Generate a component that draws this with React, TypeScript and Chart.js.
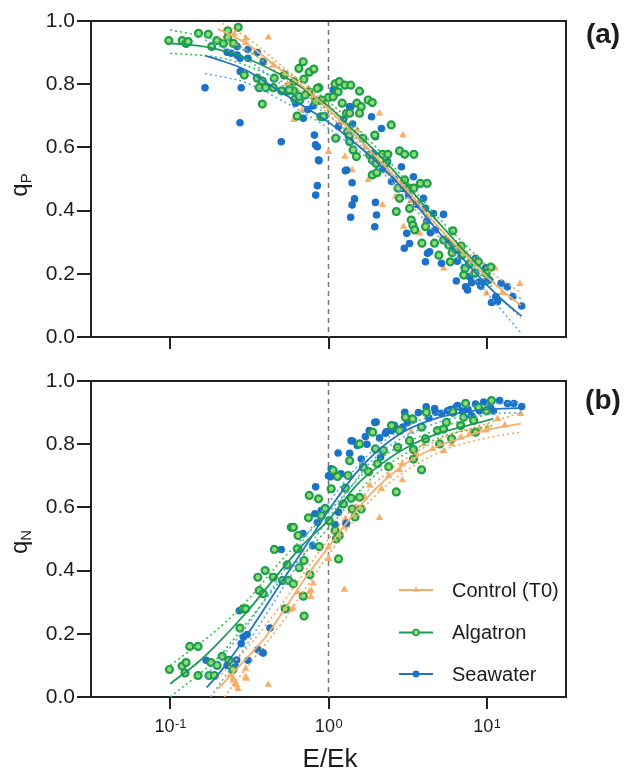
import React, { useEffect, useRef } from 'react';
import { Chart, registerables } from 'chart.js';

Chart.register(...registerables);

const FONT = '"Liberation Sans", Arial, Helvetica, sans-serif';
const TEXT = '#1c1c1c';

const ORANGE = '#f8ae68';
const ORANGE_DOT = '#f6a555';
const GREEN_EDGE = '#1c9e4a';
const GREEN_FILL = '#93da76';
const GREEN_LINE = '#179c58';
const GREEN_DOT = '#34c24a';
const BLUE = '#1b72c8';
const BLUE_LINE = '#1f74c4';
const BLUE_DOT = '#5aa8ea';

// ---------- axis ticks ----------
const X_TICKS = [0.1, 1, 10];
const X_TICK_EXP = ['-1', '0', '1'];
const Y_STEP = 0.2;
const LEGEND_LABELS = ['Control (T0)', 'Algatron', 'Seawater'];

// ---------- panel (a): qP ----------
const ctrlA = [
  [0.254, 0.959], [0.3, 0.945], [0.3, 0.93], [0.417, 0.948], [0.45, 0.86], [0.55, 0.8], [0.604, 0.687],
  [0.684, 0.718], [0.8, 0.76], [1.0, 0.586], [1.2, 0.68], [1.27, 0.571], [1.41, 0.528], [1.52, 0.655],
  [1.7, 0.6], [1.78, 0.497], [2.1, 0.708], [2.19, 0.418], [2.4, 0.52], [2.65, 0.444], [2.95, 0.639],
  [2.98, 0.349], [3.3, 0.43], [3.76, 0.328], [4.2, 0.38], [5.35, 0.217], [6.5, 0.27], [8.0, 0.2],
  [9.94, 0.138], [11.3, 0.217], [12.5, 0.14], [16.2, 0.168],
];
const algA = [
  [0.098, 0.938], [0.119, 0.938], [0.126, 0.929], [0.13, 0.935], [0.151, 0.961], [0.174, 0.958], [0.183, 0.919],
  [0.197, 0.938], [0.217, 0.929], [0.231, 0.969], [0.231, 0.948], [0.251, 0.929], [0.269, 0.98], [0.294, 0.829],
  [0.355, 0.819], [0.382, 0.81], [0.365, 0.789], [0.401, 0.789], [0.448, 0.789], [0.454, 0.819], [0.382, 0.737],
  [0.506, 0.779], [0.525, 0.829], [0.556, 0.779], [0.604, 0.808], [0.6, 0.779], [0.65, 0.85], [0.692, 0.871],
  [0.699, 0.816], [0.613, 0.752], [0.66, 0.75], [0.755, 0.838], [0.808, 0.848], [0.751, 0.776], [0.869, 0.789],
  [0.904, 0.75], [1.0, 0.758], [0.634, 0.699], [0.894, 0.697], [0.565, 0.782], [0.653, 0.761], [0.713, 0.766],
  [0.85, 0.787], [0.927, 0.697], [0.83, 0.745],
  [1.1, 0.801], [1.17, 0.808], [1.27, 0.797], [1.38, 0.797], [1.57, 0.778], [1.15, 0.776], [1.07, 0.76],
  [1.22, 0.74], [1.3, 0.708], [1.36, 0.708], [1.51, 0.74], [1.61, 0.729], [1.78, 0.75], [1.89, 0.742],
  [1.57, 0.708], [1.11, 0.629], [1.32, 0.65], [1.35, 0.636], [1.36, 0.618], [1.43, 0.592], [1.5, 0.571],
  [1.65, 0.629], [1.96, 0.639], [2.49, 0.671], [1.82, 0.576], [1.89, 0.56], [2.0, 0.549], [2.19, 0.578],
  [2.37, 0.578], [2.81, 0.589], [3.03, 0.578], [3.46, 0.578], [2.3, 0.549], [1.89, 0.513], [2.02, 0.52],
  [2.75, 0.471], [3.03, 0.497], [3.22, 0.471], [3.46, 0.471], [3.8, 0.486], [4.2, 0.486], [2.81, 0.439],
  [2.68, 0.397], [3.25, 0.407], [3.33, 0.37], [3.41, 0.354], [3.5, 0.339], [3.89, 0.297], [4.1, 0.349],
  [4.67, 0.297], [4.98, 0.259], [5.33, 0.307], [5.75, 0.291], [6.1, 0.336], [6.04, 0.267], [6.4, 0.278],
  [6.89, 0.288], [6.95, 0.259], [5.87, 0.238], [7.3, 0.217], [7.77, 0.231], [7.15, 0.196], [8.85, 0.238],
  [8.43, 0.202], [9.9, 0.202], [10.6, 0.221],
];
const seaA = [
  [0.166, 0.789], [0.276, 0.678], [0.281, 0.789], [0.229, 0.901], [0.243, 0.898], [0.265, 0.892], [0.276, 0.882],
  [0.265, 0.919], [0.31, 0.91], [0.355, 0.9], [0.31, 0.882], [0.387, 0.871], [0.277, 0.84], [0.503, 0.618],
  [0.62, 0.74], [0.693, 0.692], [0.74, 0.72], [0.8, 0.731], [0.815, 0.639], [0.828, 0.608], [0.85, 0.602],
  [0.865, 0.56], [0.87, 0.558], [0.85, 0.479], [0.83, 0.449], [0.95, 0.7], [1.07, 0.782], [1.157, 0.666],
  [1.25, 0.69], [1.277, 0.526], [1.3, 0.528], [1.36, 0.729], [1.38, 0.727], [1.41, 0.488], [1.41, 0.418],
  [1.38, 0.379], [1.46, 0.437], [1.42, 0.674], [1.87, 0.697], [1.98, 0.634], [1.92, 0.581], [1.98, 0.426],
  [2.01, 0.386], [1.96, 0.349], [2.16, 0.66], [2.2, 0.53], [2.36, 0.555], [2.5, 0.492], [2.6, 0.5],
  [2.89, 0.539], [2.94, 0.47], [3.01, 0.281], [3.12, 0.328], [3.2, 0.45], [3.25, 0.296], [3.44, 0.507],
  [3.6, 0.42], [3.98, 0.439], [4.1, 0.407], [4.17, 0.365], [4.22, 0.265], [4.1, 0.238], [4.35, 0.27],
  [4.4, 0.33], [4.6, 0.391], [4.74, 0.339], [5.33, 0.388], [5.17, 0.233], [5.6, 0.3], [6.42, 0.177],
  [6.5, 0.24], [7.2, 0.22], [7.34, 0.159], [7.56, 0.149], [7.78, 0.191], [8.01, 0.172], [8.49, 0.249],
  [8.9, 0.174], [9.16, 0.161], [9.83, 0.219], [9.83, 0.175], [10.4, 0.18], [10.7, 0.109], [11.4, 0.128],
  [11.7, 0.112], [12.3, 0.17], [13.5, 0.159], [14.6, 0.128], [16.6, 0.098],
];

// fitted curves and 95% bands, panel (a)
const ctrlFitA = [[0.2, 0.975], [0.3, 0.93], [0.5, 0.845], [0.7, 0.79], [1, 0.72], [1.5, 0.635], [2, 0.57], [3, 0.475], [5, 0.345], [7, 0.27], [10, 0.19], [13, 0.14], [16.4, 0.1]];
const ctrlHiA = [[0.2, 1.0], [0.3, 0.95], [0.5, 0.86], [1, 0.735], [2, 0.585], [5, 0.36], [10, 0.215], [16.4, 0.14]];
const ctrlLoA = [[0.2, 0.95], [0.3, 0.91], [0.5, 0.83], [1, 0.705], [2, 0.555], [5, 0.33], [10, 0.165], [16.4, 0.06]];
const algFitA = [[0.1, 0.929], [0.15, 0.922], [0.2, 0.91], [0.3, 0.883], [0.5, 0.83], [0.7, 0.785], [1, 0.73], [1.5, 0.645], [2, 0.585], [3, 0.49], [5, 0.36], [7, 0.28], [10, 0.2], [11, 0.18]];
const algHiA = [[0.1, 0.972], [0.2, 0.94], [0.3, 0.905], [0.5, 0.85], [1, 0.745], [2, 0.6], [5, 0.375], [10, 0.225], [11, 0.205]];
const algLoA = [[0.1, 0.898], [0.2, 0.885], [0.3, 0.86], [0.5, 0.81], [1, 0.715], [2, 0.57], [5, 0.345], [10, 0.175], [11, 0.155]];
const seaFitA = [[0.166, 0.89], [0.2, 0.878], [0.3, 0.845], [0.5, 0.775], [0.7, 0.73], [1, 0.68], [1.5, 0.61], [2, 0.555], [3, 0.465], [5, 0.33], [7, 0.25], [10, 0.165], [13, 0.11], [16.6, 0.066]];
const seaHiA = [[0.166, 0.94], [0.3, 0.88], [0.5, 0.8], [1, 0.7], [2, 0.57], [5, 0.345], [10, 0.19], [16.6, 0.12]];
const seaLoA = [[0.166, 0.834], [0.3, 0.805], [0.5, 0.75], [1, 0.66], [2, 0.54], [5, 0.315], [10, 0.14], [16.6, 0.01]];

// ---------- panel (b): qN ----------
const ctrlB = [
  [0.24, 0.07], [0.25, 0.053], [0.25, 0.059], [0.257, 0.042], [0.263, 0.038], [0.268, 0.026], [0.3, 0.064],
  [0.302, 0.058], [0.3, 0.09], [0.417, 0.039], [0.571, 0.276], [0.598, 0.28], [0.635, 0.332], [0.68, 0.464],
  [0.755, 0.333], [0.773, 0.317], [0.778, 0.337], [0.8, 0.36], [1.0, 0.437], [1.0, 0.474], [1.26, 0.34],
  [1.26, 0.537], [1.28, 0.564], [1.3, 0.544], [1.5, 0.6], [1.7, 0.63], [1.82, 0.67], [2.1, 0.567],
  [2.16, 0.659], [2.4, 0.7], [2.81, 0.718], [2.93, 0.686], [2.92, 0.738], [3.33, 0.839], [3.6, 0.77],
  [4.0, 0.8], [4.55, 0.785], [5.33, 0.778], [6.0, 0.8], [6.84, 0.822], [7.77, 0.832], [8.0, 0.84],
  [9.0, 0.85], [9.9, 0.844], [10.1, 0.854], [11.7, 0.88], [13.0, 0.86], [16.4, 0.896],
];
const algB = [
  [0.099, 0.087], [0.119, 0.098], [0.124, 0.076], [0.126, 0.109], [0.133, 0.16], [0.15, 0.16], [0.15, 0.068],
  [0.181, 0.109], [0.198, 0.1], [0.176, 0.068], [0.19, 0.068], [0.213, 0.129], [0.235, 0.116], [0.249, 0.087],
  [0.276, 0.218], [0.289, 0.279], [0.3, 0.279], [0.358, 0.379], [0.365, 0.337], [0.387, 0.327], [0.398, 0.4],
  [0.448, 0.379], [0.455, 0.467], [0.512, 0.369], [0.533, 0.279], [0.548, 0.418], [0.56, 0.369], [0.599, 0.358],
  [0.582, 0.537], [0.6, 0.537], [0.642, 0.511], [0.635, 0.469], [0.653, 0.409], [0.701, 0.432], [0.693, 0.319],
  [0.701, 0.256], [0.747, 0.567], [0.756, 0.638], [0.764, 0.387], [0.865, 0.627], [0.874, 0.476], [0.9, 0.574],
  [0.953, 0.597], [1.01, 0.558], [1.04, 0.659], [1.07, 0.717], [1.1, 0.527], [1.12, 0.5], [1.17, 0.511],
  [1.14, 0.698], [1.157, 0.437], [1.24, 0.611], [1.28, 0.661], [1.33, 0.701], [1.36, 0.748], [1.39, 0.629],
  [1.41, 0.595], [1.47, 0.57], [1.57, 0.632], [1.61, 0.595], [1.66, 0.727], [1.79, 0.713], [1.57, 0.801],
  [1.9, 0.838], [1.98, 0.785], [2.04, 0.738], [2.22, 0.78], [2.4, 0.729], [2.5, 0.859], [2.68, 0.649],
  [2.73, 0.79], [2.81, 0.843], [3.06, 0.885], [3.25, 0.811], [3.44, 0.783], [3.44, 0.753], [3.4, 0.88],
  [3.87, 0.854], [3.87, 0.719], [4.1, 0.817], [4.15, 0.901], [4.88, 0.843], [5.03, 0.801], [5.33, 0.848],
  [5.55, 0.869], [5.99, 0.817], [6.1, 0.901], [6.84, 0.859], [7.13, 0.885], [7.34, 0.929], [8.25, 0.875],
  [8.49, 0.838], [8.85, 0.917], [9.94, 0.906], [10.7, 0.938],
];
const seaB = [
  [0.169, 0.116], [0.229, 0.1], [0.257, 0.098], [0.263, 0.117], [0.273, 0.273], [0.281, 0.169], [0.29, 0.19],
  [0.306, 0.198], [0.31, 0.116], [0.358, 0.15], [0.378, 0.143], [0.387, 0.139], [0.427, 0.218], [0.503, 0.467],
  [0.69, 0.517], [0.792, 0.479], [0.82, 0.58], [0.83, 0.665], [0.85, 0.553], [0.9, 0.59], [1.0, 0.7],
  [1.03, 0.697], [1.04, 0.722], [1.1, 0.546], [1.15, 0.772], [1.157, 0.585], [1.2, 0.706], [1.29, 0.55],
  [1.3, 0.549], [1.36, 0.771], [1.39, 0.811], [1.42, 0.81], [1.52, 0.796], [1.61, 0.753], [1.71, 0.824],
  [1.75, 0.8], [1.81, 0.843], [1.96, 0.869], [2.0, 0.87], [2.1, 0.82], [2.13, 0.759], [2.29, 0.835],
  [2.32, 0.839], [2.5, 0.843], [2.6, 0.86], [2.73, 0.848], [2.95, 0.854], [3.03, 0.901], [3.15, 0.869],
  [3.3, 0.88], [3.44, 0.877], [3.7, 0.9], [4.14, 0.918], [4.3, 0.883], [4.68, 0.913], [4.74, 0.901],
  [5.17, 0.898], [5.65, 0.906], [5.9, 0.91], [6.4, 0.918], [6.53, 0.922], [7.01, 0.906], [7.6, 0.91],
  [8.0, 0.89], [8.15, 0.886], [8.49, 0.927], [9.0, 0.906], [9.55, 0.933], [10.5, 0.92], [11.0, 0.905],
  [12.05, 0.938], [13.5, 0.929], [14.8, 0.929], [16.6, 0.919],
];

// fitted curves and 95% bands, panel (b)
const ctrlFitB = [[0.2, 0.025], [0.3, 0.12], [0.4, 0.19], [0.5, 0.26], [0.7, 0.37], [1, 0.475], [1.5, 0.59], [2, 0.66], [3, 0.735], [5, 0.795], [7, 0.82], [10, 0.845], [16.4, 0.865]];
const ctrlHiB = [[0.2, 0.06], [0.3, 0.15], [0.5, 0.29], [1, 0.5], [2, 0.68], [5, 0.815], [10, 0.865], [16.4, 0.9]];
const ctrlLoB = [[0.22, 0.0], [0.3, 0.09], [0.5, 0.23], [1, 0.45], [2, 0.64], [5, 0.775], [10, 0.82], [16.4, 0.838]];
const algFitB = [[0.1, 0.042], [0.15, 0.11], [0.2, 0.17], [0.3, 0.265], [0.5, 0.4], [0.7, 0.485], [1, 0.56], [1.5, 0.67], [2, 0.725], [3, 0.785], [5, 0.835], [7, 0.855], [10, 0.875], [11, 0.88]];
const algHiB = [[0.1, 0.1], [0.2, 0.215], [0.3, 0.3], [0.5, 0.43], [1, 0.585], [2, 0.745], [5, 0.85], [11, 0.9]];
const algLoB = [[0.1, 0.0], [0.2, 0.125], [0.3, 0.23], [0.5, 0.37], [1, 0.535], [2, 0.705], [5, 0.82], [11, 0.86]];
const seaFitB = [[0.17, 0.03], [0.2, 0.07], [0.3, 0.19], [0.5, 0.36], [0.7, 0.47], [1, 0.59], [1.5, 0.71], [2, 0.775], [3, 0.84], [5, 0.885], [7, 0.9], [10, 0.91], [16.6, 0.915]];
const seaHiB = [[0.17, 0.07], [0.3, 0.22], [0.5, 0.385], [1, 0.615], [2, 0.79], [5, 0.9], [10, 0.925], [16.6, 0.935]];
const seaLoB = [[0.18, 0.0], [0.3, 0.16], [0.5, 0.335], [1, 0.565], [2, 0.76], [5, 0.87], [10, 0.895], [16.6, 0.9]];

const X_MIN = Math.pow(10, -1.5);
const X_MAX = Math.pow(10, 1.5);

function pts(a: number[][]) {
  return a.map(([x, y]) => ({ x, y }));
}

function pointDs(data: number[][], kind: 'ctrl' | 'alg' | 'sea') {
  if (kind === 'ctrl') {
    return { data: pts(data), showLine: false, pointStyle: 'triangle', pointRadius: 4.3, pointBackgroundColor: ORANGE, pointBorderWidth: 0, pointBorderColor: ORANGE, order: 6 };
  }
  if (kind === 'sea') {
    return { data: pts(data), showLine: false, pointStyle: 'circle', pointRadius: 3.8, pointBackgroundColor: BLUE, pointBorderWidth: 0, pointBorderColor: BLUE, order: 5 };
  }
  return { data: pts(data), showLine: false, pointStyle: 'circle', pointRadius: 3.5, pointBackgroundColor: GREEN_FILL, pointBorderWidth: 2.2, pointBorderColor: GREEN_EDGE, order: 4 };
}

function lineDs(data: number[][], color: string, dotted: boolean) {
  return {
    data: pts(data),
    showLine: true,
    pointRadius: 0,
    borderColor: color,
    borderWidth: dotted ? 1.6 : 1.8,
    borderDash: dotted ? [2, 3] : [],
    cubicInterpolationMode: 'monotone',
    fill: false,
    order: dotted ? 2 : 1,
  };
}

const framePlugin = {
  id: 'frameAndRef',
  beforeDatasetsDraw(chart: any) {
    const { ctx, chartArea: a, scales } = chart;
    const x1 = scales.x.getPixelForValue(1);
    ctx.save();
    ctx.strokeStyle = '#777';
    ctx.lineWidth = 1.5;
    ctx.setLineDash([5, 4]);
    ctx.beginPath();
    ctx.moveTo(x1, a.top);
    ctx.lineTo(x1, a.bottom);
    ctx.stroke();
    ctx.restore();
  },
  afterDraw(chart: any) {
    const { ctx, chartArea: a } = chart;
    ctx.save();
    ctx.strokeStyle = '#222';
    ctx.lineWidth = 2;
    ctx.beginPath();
    ctx.moveTo(a.left, a.top);
    ctx.lineTo(a.right, a.top);
    ctx.lineTo(a.right, a.bottom);
    ctx.stroke();
    ctx.restore();
  },
};

const xLabelPlugin = {
  id: 'xPowLabels',
  afterDraw(chart: any) {
    const { ctx, chartArea, scales } = chart;
    ctx.save();
    ctx.fillStyle = TEXT;
    ctx.textBaseline = 'alphabetic';
    ctx.textAlign = 'left';
    X_TICKS.forEach((v, i) => {
      const px = scales.x.getPixelForValue(v);
      ctx.font = `18px ${FONT}`;
      const wb = ctx.measureText('10').width;
      ctx.font = `13px ${FONT}`;
      const we = ctx.measureText(X_TICK_EXP[i]).width;
      const left = px - (wb + we) / 2;
      ctx.font = `18px ${FONT}`;
      ctx.fillText('10', left, chartArea.bottom + 35);
      ctx.font = `13px ${FONT}`;
      ctx.fillText(X_TICK_EXP[i], left + wb + 0.5, chartArea.bottom + 31);
    });
    ctx.restore();
  },
};

const legendPlugin = {
  id: 'customLegend',
  afterDraw(chart: any) {
    const { ctx, chartArea: a } = chart;
    const rows = [a.bottom - 107, a.bottom - 64.5, a.bottom - 23];
    const colors = [ORANGE, GREEN_LINE, BLUE_LINE];
    const x0 = a.right - 167;
    const x1 = a.right - 133;
    const xm = (x0 + x1) / 2;
    ctx.save();
    rows.forEach((y, i) => {
      ctx.strokeStyle = colors[i];
      ctx.lineWidth = 2;
      ctx.setLineDash([]);
      ctx.beginPath();
      ctx.moveTo(x0, y);
      ctx.lineTo(x1, y);
      ctx.stroke();
      if (i === 0) {
        const r = 3.6;
        ctx.fillStyle = ORANGE;
        ctx.beginPath();
        ctx.moveTo(xm, y - r);
        ctx.lineTo(xm + r * 0.866, y + r * 0.5);
        ctx.lineTo(xm - r * 0.866, y + r * 0.5);
        ctx.closePath();
        ctx.fill();
      } else if (i === 1) {
        ctx.fillStyle = GREEN_FILL;
        ctx.strokeStyle = GREEN_EDGE;
        ctx.lineWidth = 1.6;
        ctx.beginPath();
        ctx.arc(xm, y, 3, 0, Math.PI * 2);
        ctx.fill();
        ctx.stroke();
      } else {
        ctx.fillStyle = BLUE;
        ctx.beginPath();
        ctx.arc(xm, y, 3.4, 0, Math.PI * 2);
        ctx.fill();
      }
      ctx.fillStyle = TEXT;
      ctx.font = `20px ${FONT}`;
      ctx.textAlign = 'left';
      ctx.textBaseline = 'middle';
      ctx.fillText(LEGEND_LABELS[i], a.right - 114, y + 1);
    });
    ctx.restore();
  },
};

function buildConfig(isB: boolean) {
  const datasets = isB
    ? [
        lineDs(ctrlFitB, ORANGE, false), lineDs(algFitB, GREEN_LINE, false), lineDs(seaFitB, BLUE_LINE, false),
        lineDs(ctrlHiB, ORANGE_DOT, true), lineDs(ctrlLoB, ORANGE_DOT, true),
        lineDs(algHiB, GREEN_DOT, true), lineDs(algLoB, GREEN_DOT, true),
        lineDs(seaHiB, BLUE_DOT, true), lineDs(seaLoB, BLUE_DOT, true),
        pointDs(algB, 'alg'), pointDs(seaB, 'sea'), pointDs(ctrlB, 'ctrl'),
      ]
    : [
        lineDs(ctrlFitA, ORANGE, false), lineDs(algFitA, GREEN_LINE, false), lineDs(seaFitA, BLUE_LINE, false),
        lineDs(ctrlHiA, ORANGE_DOT, true), lineDs(ctrlLoA, ORANGE_DOT, true),
        lineDs(algHiA, GREEN_DOT, true), lineDs(algLoA, GREEN_DOT, true),
        lineDs(seaHiA, BLUE_DOT, true), lineDs(seaLoA, BLUE_DOT, true),
        pointDs(algA, 'alg'), pointDs(seaA, 'sea'), pointDs(ctrlA, 'ctrl'),
      ];
  return {
    type: 'scatter',
    data: { datasets },
    options: {
      responsive: false,
      animation: false,
      devicePixelRatio: 1,
      layout: { padding: { left: 0, right: 64, top: 21, bottom: 0 } },
      plugins: { legend: { display: false }, tooltip: { enabled: false } },
      scales: {
        x: {
          type: 'logarithmic',
          min: X_MIN,
          max: X_MAX,
          afterBuildTicks: (s: any) => {
            s.ticks = X_TICKS.map((v) => ({ value: v }));
          },
          afterFit: (s: any) => {
            s.height = isB ? 74 : 23;
          },
          ticks: { callback: () => '', autoSkip: false, maxRotation: 0 },
          grid: { drawOnChartArea: false, drawTicks: true, tickLength: 12, tickWidth: 2, tickColor: '#222', color: '#222', lineWidth: 2 },
          border: { display: true, color: '#222', width: 2 },
        },
        y: {
          min: 0,
          max: 1,
          afterFit: (s: any) => {
            s.width = 91;
          },
          ticks: {
            stepSize: Y_STEP,
            callback: (v: any) => Number(v).toFixed(1),
            font: { family: FONT, size: 21 },
            color: TEXT,
            padding: 2,
          },
          grid: { drawOnChartArea: false, drawTicks: true, tickLength: 14, tickWidth: 2, tickColor: '#222', color: '#222', lineWidth: 2 },
          border: { display: true, color: '#222', width: 2 },
        },
      },
    },
    plugins: isB ? [framePlugin, legendPlugin, xLabelPlugin] : [framePlugin],
  };
}

function Panel({ isB, top, height }: { isB: boolean; top: number; height: number }) {
  const ref = useRef<HTMLCanvasElement | null>(null);
  useEffect(() => {
    if (!ref.current) return;
    const chart = new Chart(ref.current, buildConfig(isB) as any);
    return () => chart.destroy();
  }, [isB]);
  return (
    <canvas
      ref={ref}
      width={630}
      height={height}
      style={{ position: 'absolute', left: 0, top, width: 630, height }}
    />
  );
}

const txt: React.CSSProperties = {
  position: 'absolute',
  fontFamily: FONT,
  color: TEXT,
  whiteSpace: 'nowrap',
  lineHeight: 1,
  transform: 'translate(-50%, -50%)',
};

export default function App() {
  return (
    <div style={{ position: 'absolute', left: 0, top: 0, width: 630, height: 771, background: '#fff', overflow: 'hidden' }}>
      <Panel isB={false} top={0} height={360} />
      <Panel isB={true} top={360} height={411} />
      <div style={{ ...txt, left: 603, top: 34, fontSize: 28, fontWeight: 700 }}>(a)</div>
      <div style={{ ...txt, left: 603, top: 400, fontSize: 28, fontWeight: 700 }}>(b)</div>
      <div style={{ ...txt, left: 20, top: 185, fontSize: 24, transform: 'translate(-50%, -50%) rotate(-90deg)' }}>
        q<sub style={{ fontSize: 15, verticalAlign: '-0.3em' }}>P</sub>
      </div>
      <div style={{ ...txt, left: 20, top: 542, fontSize: 24, transform: 'translate(-50%, -50%) rotate(-90deg)' }}>
        q<sub style={{ fontSize: 15, verticalAlign: '-0.3em' }}>N</sub>
      </div>
      <div style={{ ...txt, left: 330, top: 758, fontSize: 26 }}>E/Ek</div>
    </div>
  );
}
